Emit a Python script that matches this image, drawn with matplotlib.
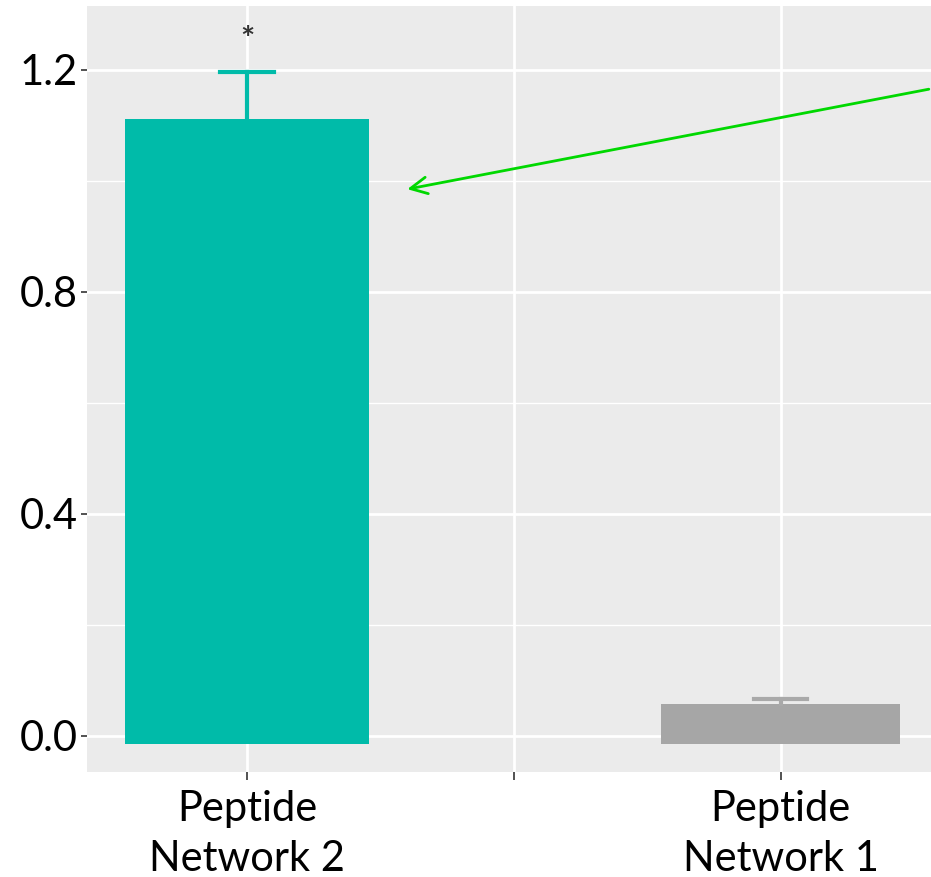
import numpy as np
import matplotlib
matplotlib.use("Agg")
from matplotlib import pyplot as plt

# data
categories = ["Peptide\nNetwork 2", "", "Peptide\nNetwork 1"]
positions = [0, 2]
means = [1.112, 0.058]
err_top = [1.196, 0.066]
bar_colors = ["#00BBA9", "#A6A6A6"]
err_colors = ["#00BBA9", "#A9A9A9"]
base = -0.014
yticks = [0.0, 0.4, 0.8, 1.2]

plt.rcParams['font.family'] = ['Lato', 'DejaVu Sans']

fig = plt.figure(figsize=(9.31, 8.77), dpi=100)
ax = fig.add_axes([0.0935, 0.1197, 0.9065, 0.8735])
ax.set_facecolor("#EBEBEB")

# grid, ggplot style
for y in [0.2, 0.6, 1.0]:
    ax.axhline(y, color="white", lw=1.0, zorder=0)
for y in yticks:
    ax.axhline(y, color="white", lw=2.0, zorder=0)
for x in [0, 1, 2]:
    ax.axvline(x, color="white", lw=2.0, zorder=0)

heights = [m - base for m in means]
ax.bar(positions, heights, bottom=base, width=[0.915, 0.895],
       color=bar_colors, zorder=2)

for p, m, e, c in zip(positions, means, err_top, err_colors):
    ax.plot([p, p], [m, e], color=c, lw=3, zorder=3)
    ax.plot([p - 0.1, p + 0.1], [e, e], color=c, lw=3, zorder=3)

ax.text(0, 1.252, "*", ha="center", va="center", fontsize=24, color="#333333",
        fontweight="bold", zorder=4)

ax.annotate("", xy=(0.59, 0.984), xytext=(2.565, 1.166),
            arrowprops=dict(arrowstyle="->", color="#00D800", lw=2,
                            mutation_scale=30), zorder=5, annotation_clip=False)

ax.set_xlim(-0.6, 2.563)
ax.set_ylim(-0.065, 1.315)
ax.set_xticks([0, 1, 2])
ax.set_xticklabels(categories, fontsize=30, linespacing=1.38)
ax.set_yticks(yticks)
ax.set_yticklabels(["%.1f" % v for v in yticks], fontsize=30)
ax.tick_params(axis="y", length=4, width=1.2, color="#333333", pad=3)
ax.tick_params(axis="x", length=6, width=1.2, color="#333333", pad=7)
for s in ax.spines.values():
    s.set_visible(False)

fig.savefig("out.png", dpi=100)
